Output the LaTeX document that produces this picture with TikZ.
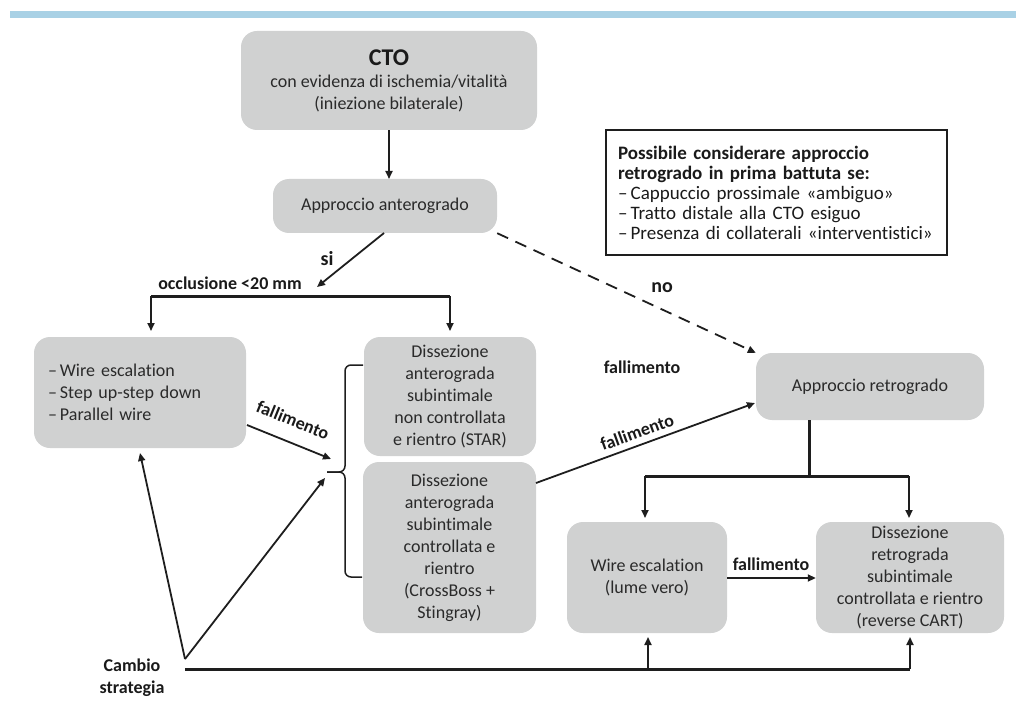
\documentclass[tikz,border=0pt]{standalone}
\usepackage{fontspec}
\setmainfont[Ligatures=NoCommon]{Carlito}
\usetikzlibrary{arrows.meta}
\definecolor{boxgray}{HTML}{D0D1D1}
\definecolor{barblue}{HTML}{A9D1E5}
\definecolor{txt}{HTML}{2A2A2A}
\definecolor{lbl}{HTML}{1A1A1A}
\definecolor{ln}{HTML}{1E1E1E}
\newcommand\fs{\fontsize{18}{22}\selectfont}
\tikzset{
  box/.style={fill=boxgray, rounded corners=16pt, inner sep=0pt, align=center, font=\fs, text=txt},
  lab/.style={font=\fs\bfseries, text=lbl, inner sep=1pt},
  arr/.style={draw=ln, line width=1.8pt, -{Triangle[length=8pt,width=7pt]}},
  bar/.style={draw=ln, line width=3pt},
  brc/.style={draw=ln, line width=1.5pt, rounded corners=6pt},
}
\begin{document}
\begin{tikzpicture}[x=1pt,y=-1pt]
\useasboundingbox (0,0) rectangle (1016,708);
\fill[barblue] (10,11) rectangle (1016,18);

\node[box, minimum width=296pt, minimum height=99pt] (cto) at (389,80.5)
  {{\fontsize{24}{28}\selectfont\bfseries\color{lbl}CTO}\\con evidenza di ischemia/vitalità\\(iniezione bilaterale)};
\node[box, minimum width=224pt, minimum height=54pt] (ant) at (385,206) {Approccio anterogrado};

\node[draw=ln, line width=1.5pt, minimum width=341pt, minimum height=125pt, inner sep=0pt,
      text width=317pt, align=left, font=\fontsize{19}{20}\selectfont, text=lbl] (note) at (776.5,192.5)
  {\textbf{Possibile considerare approccio}\\\textbf{retrogrado in prima battuta se:}\\
   –\,Cappuccio prossimale «ambiguo»\\–\,Tratto distale alla CTO esiguo\\–\,Presenza di collaterali «interventistici»};

\node[box, minimum width=212pt, minimum height=111pt, text width=184pt, align=left] (wire) at (140,392.5)
  {–\,Wire escalation\\–\,Step up-step down\\–\,Parallel wire};
\node[box, minimum width=172pt, minimum height=119pt] (star) at (450,396.5)
  {Dissezione\\anterograda\\subintimale\\non controllata\\e rientro (STAR)};
\node[box, minimum width=173pt, minimum height=171pt] (cb) at (449.5,547.5)
  {Dissezione\\anterograda\\subintimale\\controllata e\\rientro\\(CrossBoss +\\Stingray)};
\node[box, minimum width=228pt, minimum height=67pt] (retro) at (870,386.5) {Approccio retrogrado};
\node[box, minimum width=160pt, minimum height=111pt] (lume) at (647,577.5) {Wire escalation\\(lume vero)};
\node[box, minimum width=188pt, minimum height=111pt] (rdiss) at (910,577.5)
  {Dissezione\\retrograda\\subintimale\\controllata e rientro\\(reverse CART)};

% labels
\node[lab, font=\fontsize{20}{22}\selectfont\bfseries] (si) at (327,259) {si};
\node[lab] (occ) at (230,283) {occlusione <20 mm};
\node[lab, font=\fontsize{20}{22}\selectfont\bfseries] (no) at (662,288) {no};
\node[lab] (fal0) at (642,367) {fallimento};
\node[lab, align=center] (cambio) at (132,678) {Cambio\\strategia};
\node[lab, rotate=-22] (fal1) at (293,420) {fallimento};
\node[lab, rotate=20] (fal2) at (637,432) {fallimento};
\node[lab] (fal3) at (771,564) {fallimento};

% connectors
\draw[arr] (cto.south -| 389,0) -- (389,179);
\coordinate (siend) at (317,287);
\draw[arr] (384,233) -- (siend);
\coordinate (occL) at (151,296);
\coordinate (occR) at (450,296);
\draw[arr] (occL) -- (151,331);
\draw[arr] (occR) -- (450,331);
\draw[bar] (occL) -- (occR);

\draw[arr, dashed, dash pattern=on 12pt off 8pt] (ant.south east) -- (retro.north west);

% brace
\draw[brc] (363,365) -- (345,365) -- (345,472) -- (327,472);
\draw[brc] (327,472) -- (345,472) -- (345,577) -- (362,577);

\coordinate (w1) at (247,425);
\coordinate (w2) at (331,459);
\draw[arr] (w1) -- (w2);

\coordinate (c1) at (536,483);
\coordinate (c2) at (755,403);
\draw[arr] (c1) -- (c2);

% cambio strategia
\coordinate (cs) at (185,659);
\coordinate (csl) at (185,669);
\draw[arr] (cs) -- (140,453);
\draw[arr] (cs) -- (325,478);
\draw[bar] (csl) -- (910,669);
\draw[arr] (648,669) -- (648,637);
\draw[arr] (910,669) -- (910,637);

% retro branch
\coordinate (rb) at (809,476);
\draw[bar] (809,420) -- (rb);
\draw[bar] (645,476) -- (909,476);
\draw[arr] (645,476) -- (645,518);
\draw[arr] (909,476) -- (909,518);

\draw[arr] (lume.east |- 0,578) -- (rdiss.west |- 0,578);
\end{tikzpicture}
\end{document}
